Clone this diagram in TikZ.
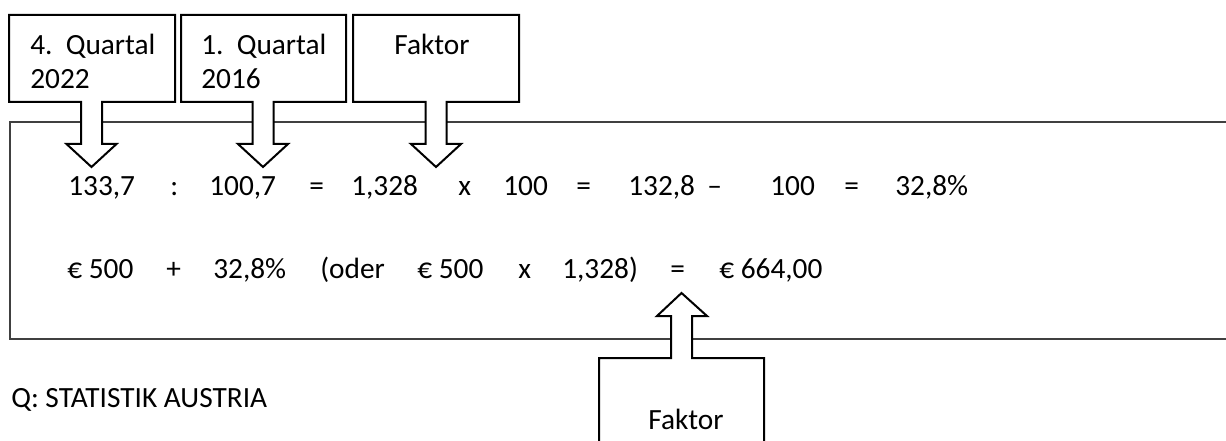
\documentclass[tikz,border=0pt]{standalone}
\usepackage{fontspec}
\setmainfont{Carlito}

\begin{document}
\begin{tikzpicture}[x=0.75pt, y=-0.75pt,
  callout/.style={draw=black, fill=white, line width=1.5pt, line join=miter},
  term/.style={anchor=base west, inner sep=0pt, font=\fontsize{22}{26}\selectfont},
  label/.style={anchor=base, inner sep=0pt, font=\fontsize{22}{26}\selectfont}]
\useasboundingbox (0,0) rectangle (1226,441);

% Rahmen (rechts offen)
\draw[line width=1.1pt, black!75] (1240,122) -- (10,122) -- (10,339) -- (1240,339);

% Hinweiskaesten oben mit Pfeil nach unten
\foreach \l/\r/\m in {9/175/91.5, 181/346/263, 353/519/436}
  \draw[callout] (\l,15) -- (\r,15) -- (\r,102) -- (\m+10.5,102) -- (\m+10.5,144)
    -- (\m+25,144) -- (\m,167) -- (\m-25,144) -- (\m-10.5,144) -- (\m-10.5,102)
    -- (\l,102) -- cycle;

% Hinweiskasten unten mit Pfeil nach oben
\draw[callout] (599,470) -- (599,358) -- (671,358) -- (671,316) -- (657,316)
  -- (681.5,293) -- (707,316) -- (692,316) -- (692,358) -- (764,358) -- (764,470);

% Beschriftungen der Kaesten
\node[term] (q4a) at (30,55) {4.\ \ Quartal};
\node[term] (q4b) at (30,89) {2022};
\node[term] (q1a) at (201,55) {1.\ \ Quartal};
\node[term] (q1b) at (201,89) {2016};
\node[label] (fak1) at (432,55) {Faktor};
\node[label] (fak2) at (686,429) {Faktor};

% Rechnung, erste Zeile
\foreach \x/\t [count=\i] in {68/{133,7}, 170/{:}, 209/{100,7}, 309/{=}, 351/{1,328},
    458/{x}, 503/{100}, 576/{=}, 628/{132,8}, 707/{–}, 770/{100}, 844/{=}, 895/{32,8\%}}
  \node[term] (r\i) at (\x,196) {\t};

% Rechnung, zweite Zeile
\foreach \x/\t [count=\i] in {67/{€ 500}, 166/{+}, 213/{32,8\%}, 320/{(oder}, 417/{€ 500},
    518/{x}, 562/{1,328)}, 670/{=}, 719/{€ 664,00}}
  \node[term] (s\i) at (\x,278) {\t};

% Quelle
\node[term] (quelle) at (11,407) {Q: STATISTIK AUSTRIA};
\end{tikzpicture}
\end{document}
